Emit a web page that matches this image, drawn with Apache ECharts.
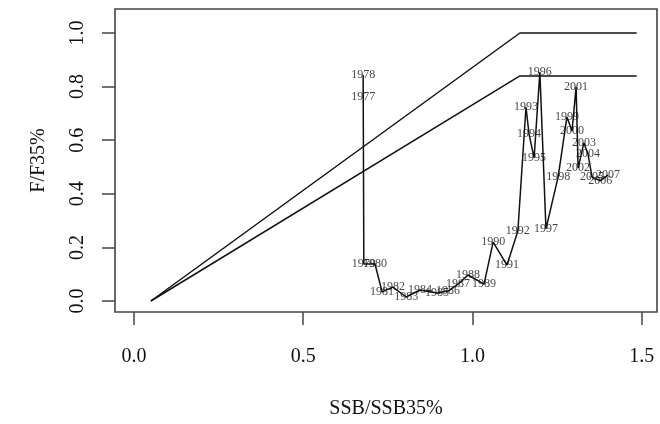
<!DOCTYPE html>
<html>
<head>
<meta charset="utf-8">
<script src="https://cdn.jsdelivr.net/npm/echarts@6/dist/echarts.min.js"></script>
<style>
html,body{margin:0;padding:0;background:#fff;}
#chart{width:660px;height:424px;}
</style>
</head>
<body>
<div id="chart"></div>
<script>
// Trajectory data
var years = [1977,1978,1979,1980,1981,1982,1983,1984,1985,1986,1987,1988,1989,1990,1991,1992,1993,1994,1995,1996,1997,1998,1999,2000,2001,2002,2003,2004,2005,2006,2007];
var ssbRatio = [0.677,0.677,0.679,0.712,0.733,0.765,0.804,0.845,0.895,0.928,0.957,0.987,1.034,1.061,1.102,1.134,1.158,1.167,1.182,1.199,1.217,1.253,1.279,1.294,1.306,1.312,1.329,1.341,1.353,1.377,1.400];
var fRatio = [0.761,0.843,0.138,0.138,0.034,0.052,0.015,0.041,0.030,0.037,0.063,0.097,0.063,0.220,0.134,0.261,0.724,0.623,0.534,0.854,0.269,0.463,0.687,0.634,0.799,0.496,0.590,0.549,0.463,0.448,0.470];

// Reference (control rule) lines
var refX = [0.05, 1.14, 1.485];
var refUpper = [0.0, 1.0, 1.0];
var refLower = [0.0, 0.84, 0.84];

// Tick values
var xTicks = [0, 0.5, 1.0, 1.5];
var yTicks = [0, 0.2, 0.4, 0.6, 0.8, 1.0];

var font = 'Liberation Serif, Times New Roman, serif';
var ink = '#111';

function pairs(xs, ys){ return xs.map(function(x,i){ return [x, ys[i]]; }); }
var trajectory = pairs(ssbRatio, fRatio);
var labelled = ssbRatio.map(function(x,i){ return {value:[x, fRatio[i]], name:String(years[i])}; });

var chart = echarts.init(document.getElementById('chart'), null, {renderer:'canvas'});
chart.setOption({
  animation:false,
  backgroundColor:'#fff',
  grid:{left:115, right:3, top:9, bottom:112, show:true, borderColor:'#444', borderWidth:1.6, backgroundColor:'transparent'},
  xAxis:{
    type:'value', min:-0.056, max:1.545,
    axisLine:{show:false, onZero:false},
    splitLine:{show:false},
    axisTick:{show:true, customValues:xTicks, length:13, lineStyle:{color:'#444', width:1.5}},
    axisLabel:{show:true, customValues:xTicks, margin:35, fontSize:20, fontFamily:font, color:ink,
      formatter:function(v){ return v.toFixed(1); }},
    name:'SSB/SSB35%', nameLocation:'middle', nameGap:87,
    nameTextStyle:{fontSize:20, fontFamily:font, color:ink}
  },
  yAxis:{
    type:'value', min:-0.041, max:1.0896,
    axisLine:{show:false, onZero:false},
    splitLine:{show:false},
    axisTick:{show:true, customValues:yTicks, length:13, lineStyle:{color:'#444', width:1.5}},
    axisLabel:{show:true, customValues:yTicks, margin:27, rotate:90, fontSize:20, fontFamily:font, color:ink,
      formatter:function(v){ return v.toFixed(1); }},
    name:'F/F35%', nameLocation:'middle', nameGap:66, nameRotate:90,
    nameTextStyle:{fontSize:20, fontFamily:font, color:ink}
  },
  series:[
    {type:'line', data:pairs(refX, refUpper), symbol:'none', lineStyle:{color:ink, width:1.5}, silent:true},
    {type:'line', data:pairs(refX, refLower), symbol:'none', lineStyle:{color:ink, width:1.5}, silent:true},
    {type:'line', data:trajectory, symbol:'none', lineStyle:{color:ink, width:1.5}, silent:true},
    {type:'scatter', data:labelled, symbol:'circle', symbolSize:1, itemStyle:{color:'rgba(0,0,0,0)'},
      label:{show:true, position:'inside', formatter:function(p){ return p.name; }, fontSize:12, fontFamily:font, color:ink},
      silent:true}
  ]
});
</script>
</body>
</html>
